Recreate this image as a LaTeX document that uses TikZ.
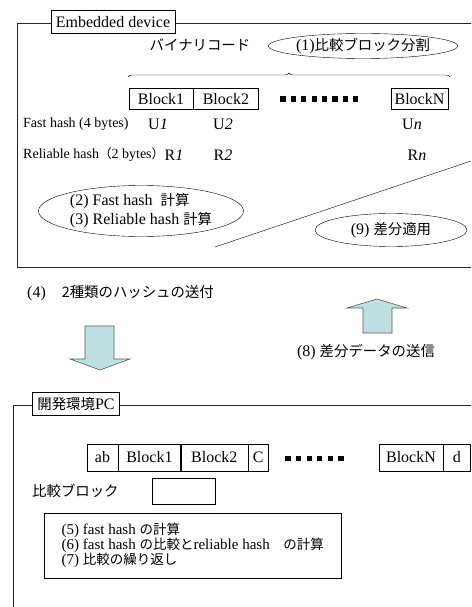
\documentclass[tikz,border=0pt]{standalone}
\usepackage{fontspec}
\setmainfont{Liberation Serif}
\newfontfamily\jpfont[Scale=0.9]{Noto Sans CJK JP}
\newcommand{\jp}[1]{{\jpfont #1}}
\usetikzlibrary{shapes,calc,decorations.pathreplacing}
\definecolor{arrowfill}{RGB}{190,224,227}

\tikzset{
  frame/.style={draw=black!85,line width=0.7pt},
  tag/.style={draw,rectangle,fill=white,inner xsep=5pt,minimum height=23,font=\fontsize{16}{19}\selectfont},
  blk/.style={draw,rectangle,inner sep=0pt,font=\fontsize{16}{19}\selectfont},
  oval/.style={draw,ellipse,inner sep=0pt,font=\fontsize{16}{19}\selectfont},
  txt/.style={inner sep=0pt,font=\fontsize{16}{19}\selectfont},
  small/.style={inner sep=0pt,font=\fontsize{14}{16}\selectfont},
  fatarrow/.style={fill=arrowfill,draw=black!65,line width=0.6pt,line join=miter},
}

\begin{document}
\begin{tikzpicture}[x=1pt,y=-1pt]
\useasboundingbox (0,0) rectangle (471,607);
\clip (0,0) rectangle (471,607);
% upper frame: embedded side
\draw[frame] (17,23) rectangle (495,267);
\node[tag] (ED) at (113,22) {Embedded device};
\node[txt] (BIN) at (200,45) {\jp{バイナリコード}};
\node[oval,minimum width=180,minimum height=25] (SPLIT) at (363,46) {(1)\jp{比較ブロック分割}};
\draw[decorate,decoration={brace,amplitude=4pt}] (128,77) -- (450,77);
\node[blk,minimum width=64,minimum height=21] (B1) at (161,99) {Block1};
\node[blk,minimum width=65,minimum height=21,anchor=west] (B2) at (B1.east) {Block2};
\node[blk,minimum width=57,minimum height=21] (BN) at (419.5,99) {BlockN};
\foreach\i in {0,1,...,7} {
  \fill (283+10.4*\i-2.6,96.4) rectangle ++(5.2,5.2);
}
\node[small,anchor=west] (FH) at (23,124) {Fast hash (4 bytes)};
\node[txt] (U1) at (158,124) {U\textit{1}};
\node[txt] (U2) at (223,124) {U\textit{2}};
\node[txt] (UN) at (412,124) {U\textit{n}};
\node[small,anchor=west] (RH) at (23,155) {Reliable hash\jp{（}2 bytes\jp{）}};
\node[txt] (R1) at (174,155) {R\textit{1}};
\node[txt] (R2) at (223,155) {R\textit{2}};
\node[txt] (RN) at (417,155) {R\textit{n}};
\node[oval,minimum width=205,minimum height=51,align=left] (CALC) at (141,211)
  {(2) Fast hash \ \jp{計算}\\(3) Reliable hash \jp{計算}};
\coordinate (SL) at (215,247);
\coordinate (SR) at (471,161);
\draw (SL) -- (SR);
\node[oval,minimum width=152,minimum height=33] (APPLY) at (391,230) {(9) \jp{差分適用}};
% transfer
\node[txt,anchor=west] (SEND) at (27,293) {(4)\quad\jp{2種類のハッシュの送付}};
\draw[fatarrow] (85,326) -- (114,326) -- (114,359) -- (130,359) -- (100,370)
  -- (70,359) -- (85,359) -- cycle;
\draw[fatarrow] (363,333) -- (392,333) -- (392,308) -- (407,308) -- (377,299)
  -- (347,308) -- (363,308) -- cycle;
\node[txt] (DIFF) at (366,352) {(8) \jp{差分データの送信}};
% lower frame: development PC
\draw[frame] (13,405) rectangle (495,640);
\node[tag] (PC) at (76,404) {\jp{開発環境}PC};
\node[blk,minimum width=31,minimum height=27] (AB) at (102.5,457.5) {ab};
\node[blk,minimum width=62,minimum height=27,anchor=west] (C1) at (AB.east) {Block1};
\node[blk,minimum width=67,minimum height=27,anchor=west] (C2) at (C1.east) {Block2};
\node[blk,minimum width=20,minimum height=27,anchor=west] (CC) at (C2.east) {C};
\foreach\i in {0,1,...,5} {
  \fill (288+10.6*\i-2.6,456) rectangle ++(5.2,5.2);
}
\node[blk,minimum width=64,minimum height=27] (CN) at (411,457.5) {BlockN};
\node[blk,minimum width=27,minimum height=27,anchor=west] (DD) at (CN.east) {d};
\node[txt,anchor=west] (CMP) at (32,491) {\jp{比較ブロック}};
\node[blk,minimum width=63,minimum height=26] (WIN) at (183.5,491) {};
\node[draw,rectangle,anchor=north west,minimum width=297,minimum height=65,
  inner sep=3pt,align=left,font=\fontsize{15}{15}\selectfont] (STEPS) at (44,513)
  {(5) fast hash \jp{の計算}\\(6) fast hash \jp{の比較と}reliable hash\jp{　の計算}\\(7) \jp{比較の繰り返し}};
\end{tikzpicture}
\end{document}
